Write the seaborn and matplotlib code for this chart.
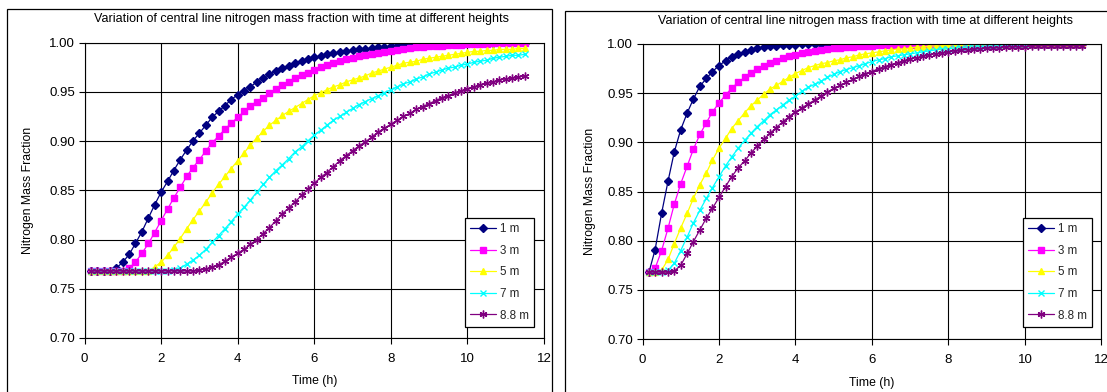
import matplotlib
matplotlib.use("Agg")
import matplotlib.pyplot as plt
from matplotlib.patches import Rectangle
from matplotlib.ticker import FormatStrFormatter
import seaborn as sns

# ---------------- data ----------------
TIME = [0.17, 0.33, 0.50, 0.67, 0.83, 1.00, 1.17, 1.33, 1.50, 1.67,
        1.83, 2.00, 2.17, 2.33, 2.50, 2.67, 2.83, 3.00, 3.17, 3.33,
        3.50, 3.67, 3.83, 4.00, 4.17, 4.33, 4.50, 4.67, 4.83, 5.00,
        5.17, 5.33, 5.50, 5.67, 5.83, 6.00, 6.17, 6.33, 6.50, 6.67,
        6.83, 7.00, 7.17, 7.33, 7.50, 7.67, 7.83, 8.00, 8.17, 8.33,
        8.50, 8.67, 8.83, 9.00, 9.17, 9.33, 9.50, 9.67, 9.83, 10.00,
        10.17, 10.33, 10.50, 10.67, 10.83, 11.00, 11.17, 11.33, 11.50]

LEFT_1M = [0.768, 0.768, 0.768, 0.768, 0.771, 0.777, 0.785, 0.796, 0.808, 0.822,
           0.835, 0.848, 0.859, 0.870, 0.881, 0.891, 0.900, 0.908, 0.916, 0.924,
           0.930, 0.936, 0.942, 0.947, 0.951, 0.955, 0.960, 0.964, 0.968, 0.971,
           0.974, 0.976, 0.979, 0.981, 0.983, 0.985, 0.986, 0.988, 0.989, 0.990,
           0.991, 0.992, 0.993, 0.993, 0.994, 0.995, 0.995, 0.996, 0.996, 0.997,
           0.997, 0.997, 0.998, 0.998, 0.998, 0.998, 0.999, 0.999, 0.999, 0.999,
           0.999, 0.999, 0.999, 0.999, 1.000, 1.000, 1.000, 1.000, 1.000]
LEFT_3M = [0.768, 0.768, 0.768, 0.768, 0.768, 0.768, 0.771, 0.777, 0.786, 0.796,
           0.807, 0.819, 0.831, 0.842, 0.853, 0.864, 0.873, 0.881, 0.890, 0.898,
           0.905, 0.912, 0.918, 0.924, 0.930, 0.936, 0.940, 0.944, 0.949, 0.953,
           0.957, 0.960, 0.964, 0.967, 0.969, 0.972, 0.975, 0.977, 0.979, 0.981,
           0.983, 0.984, 0.986, 0.987, 0.988, 0.989, 0.990, 0.991, 0.992, 0.993,
           0.994, 0.995, 0.995, 0.996, 0.996, 0.996, 0.997, 0.997, 0.997, 0.998,
           0.998, 0.998, 0.998, 0.999, 0.999, 0.999, 0.999, 0.999, 0.999]
LEFT_5M = [0.768, 0.768, 0.768, 0.768, 0.768, 0.768, 0.768, 0.768, 0.768, 0.768,
           0.772, 0.777, 0.784, 0.792, 0.801, 0.811, 0.820, 0.829, 0.838, 0.847,
           0.856, 0.864, 0.872, 0.880, 0.888, 0.896, 0.903, 0.910, 0.916, 0.921,
           0.926, 0.930, 0.934, 0.938, 0.942, 0.946, 0.949, 0.952, 0.955, 0.957,
           0.960, 0.962, 0.964, 0.966, 0.969, 0.971, 0.973, 0.975, 0.977, 0.979,
           0.980, 0.981, 0.983, 0.984, 0.985, 0.986, 0.987, 0.988, 0.989, 0.990,
           0.991, 0.991, 0.992, 0.992, 0.993, 0.993, 0.993, 0.994, 0.994]
LEFT_7M = [0.768, 0.768, 0.768, 0.768, 0.768, 0.768, 0.768, 0.768, 0.768, 0.768,
           0.768, 0.768, 0.768, 0.769, 0.771, 0.775, 0.779, 0.784, 0.790, 0.797,
           0.804, 0.811, 0.818, 0.826, 0.833, 0.840, 0.848, 0.856, 0.863, 0.870,
           0.876, 0.882, 0.889, 0.894, 0.900, 0.906, 0.911, 0.916, 0.921, 0.925,
           0.929, 0.933, 0.937, 0.940, 0.943, 0.946, 0.949, 0.952, 0.955, 0.958,
           0.960, 0.963, 0.965, 0.968, 0.970, 0.972, 0.974, 0.975, 0.977, 0.978,
           0.980, 0.981, 0.982, 0.984, 0.985, 0.986, 0.987, 0.987, 0.988]
LEFT_88M = [0.768, 0.768, 0.768, 0.768, 0.768, 0.768, 0.768, 0.768, 0.768, 0.768,
            0.768, 0.768, 0.768, 0.768, 0.768, 0.768, 0.768, 0.769, 0.770, 0.772,
            0.774, 0.778, 0.782, 0.786, 0.790, 0.795, 0.800, 0.806, 0.812, 0.819,
            0.826, 0.832, 0.838, 0.845, 0.851, 0.857, 0.863, 0.868, 0.874, 0.880,
            0.885, 0.890, 0.895, 0.899, 0.904, 0.909, 0.913, 0.917, 0.921, 0.925,
            0.928, 0.932, 0.935, 0.938, 0.941, 0.944, 0.946, 0.949, 0.951, 0.953,
            0.955, 0.957, 0.959, 0.960, 0.962, 0.963, 0.964, 0.965, 0.966]

RIGHT_1M = [0.768, 0.791, 0.828, 0.861, 0.890, 0.913, 0.930, 0.944, 0.957, 0.965,
            0.972, 0.978, 0.983, 0.987, 0.990, 0.992, 0.994, 0.996, 0.997, 0.998,
            0.998, 0.999, 0.999, 0.999, 1.000, 1.000, 1.000, 1.000, 1.000, 1.000,
            1.000, 1.000, 1.000, 1.000, 1.000, 1.000, 1.000, 1.000, 1.000, 1.000,
            1.000, 1.000, 1.000, 1.000, 1.000, 1.000, 1.000, 1.000, 1.000, 1.000,
            1.000, 1.000, 1.000, 1.000, 1.000, 1.000, 1.000, 1.000, 1.000, 1.000,
            1.000, 1.000, 1.000, 1.000, 1.000, 1.000, 1.000, 1.000, 1.000]
RIGHT_3M = [0.768, 0.772, 0.790, 0.813, 0.837, 0.858, 0.876, 0.893, 0.908, 0.920,
            0.931, 0.940, 0.948, 0.955, 0.961, 0.966, 0.971, 0.975, 0.978, 0.981,
            0.983, 0.986, 0.988, 0.989, 0.991, 0.992, 0.993, 0.994, 0.995, 0.996,
            0.996, 0.997, 0.997, 0.998, 0.998, 0.998, 0.999, 0.999, 0.999, 0.999,
            0.999, 0.999, 0.999, 0.999, 0.999, 0.999, 0.999, 0.999, 1.000, 1.000,
            1.000, 1.000, 1.000, 1.000, 1.000, 1.000, 1.000, 1.000, 1.000, 1.000,
            1.000, 1.000, 1.000, 1.000, 1.000, 1.000, 1.000, 1.000, 1.000]
RIGHT_5M = [0.768, 0.768, 0.770, 0.781, 0.797, 0.813, 0.828, 0.843, 0.857, 0.869,
            0.882, 0.894, 0.904, 0.914, 0.922, 0.930, 0.937, 0.943, 0.949, 0.954,
            0.958, 0.962, 0.966, 0.970, 0.973, 0.976, 0.978, 0.980, 0.981, 0.983,
            0.984, 0.986, 0.987, 0.989, 0.990, 0.991, 0.992, 0.993, 0.994, 0.995,
            0.995, 0.996, 0.997, 0.997, 0.998, 0.998, 0.998, 0.999, 0.999, 0.999,
            0.999, 0.999, 0.999, 0.999, 0.999, 0.999, 0.999, 0.999, 0.999, 0.999,
            1.000, 1.000, 1.000, 1.000, 1.000, 1.000, 1.000, 1.000, 1.000]
RIGHT_7M = [0.768, 0.768, 0.768, 0.770, 0.777, 0.790, 0.804, 0.818, 0.831, 0.843,
            0.854, 0.865, 0.876, 0.885, 0.894, 0.902, 0.909, 0.916, 0.922, 0.928,
            0.933, 0.938, 0.943, 0.947, 0.952, 0.956, 0.959, 0.962, 0.966, 0.969,
            0.972, 0.974, 0.976, 0.978, 0.980, 0.982, 0.984, 0.985, 0.987, 0.988,
            0.989, 0.990, 0.991, 0.992, 0.993, 0.994, 0.995, 0.995, 0.996, 0.996,
            0.997, 0.997, 0.997, 0.998, 0.998, 0.998, 0.998, 0.999, 0.999, 0.999,
            0.999, 0.999, 0.999, 0.999, 0.999, 0.999, 0.999, 0.999, 0.999]
RIGHT_88M = [0.768, 0.768, 0.768, 0.768, 0.769, 0.775, 0.787, 0.799, 0.811, 0.823,
             0.833, 0.844, 0.855, 0.865, 0.874, 0.881, 0.889, 0.896, 0.903, 0.909,
             0.915, 0.921, 0.926, 0.931, 0.935, 0.939, 0.943, 0.947, 0.951, 0.955,
             0.958, 0.961, 0.964, 0.967, 0.970, 0.972, 0.975, 0.977, 0.979, 0.981,
             0.983, 0.985, 0.986, 0.988, 0.989, 0.990, 0.991, 0.992, 0.993, 0.994,
             0.994, 0.995, 0.995, 0.996, 0.996, 0.996, 0.997, 0.997, 0.997, 0.997,
             0.998, 0.998, 0.998, 0.998, 0.998, 0.998, 0.998, 0.998, 0.998]

HEIGHTS = ["1 m", "3 m", "5 m", "7 m", "8.8 m"]
LEFT_SERIES = [LEFT_1M, LEFT_3M, LEFT_5M, LEFT_7M, LEFT_88M]
RIGHT_SERIES = [RIGHT_1M, RIGHT_3M, RIGHT_5M, RIGHT_7M, RIGHT_88M]
X_TICKS = [0, 2, 4, 6, 8, 10, 12]
Y_TICKS = [0.70, 0.75, 0.80, 0.85, 0.90, 0.95, 1.00]
TITLE = "Variation of central line nitrogen mass fraction with time at different heights"
X_LABEL = "Time (h)"
Y_LABEL = "Nitrogen Mass Fraction"

# ---------------- styling ----------------
COLORS = ["#000080", "#FF00FF", "#FFFF00", "#00FFFF", "#800080"]
MARKERS = ["D", "s", "^", "x", (6, 2, 0)]
MSIZES = [3.9, 4.0, 4.9, 4.9, 5.6]

sns.set_theme(style="white")
plt.rcParams['font.family'] = ['Liberation Sans', 'DejaVu Sans']

W, H = 1107, 392
fig = plt.figure(figsize=(W / 100, H / 100), dpi=100)
fig.patch.set_facecolor("white")


def fx(px):
    return px / W


def fy(py):
    return 1 - py / H


# outer chart-area borders (Excel style)
for x0, x1, y0 in [(7, 552, 9), (565, 1112, 11)]:
    fig.patches.append(Rectangle((fx(x0), -0.05), fx(x1) - fx(x0), fy(y0) + 0.05,
                                 transform=fig.transFigure, figure=fig,
                                 fill=False, ec="black", lw=0.9))

panels = [
    dict(box=(84.5, 544.0, 42.5, 338.0), series=LEFT_SERIES, title_x=302, title_y=19,
         ylab_x=28, xlab_y=381, leg=(465, 218)),
    dict(box=(642.5, 1101.5, 44.0, 339.0), series=RIGHT_SERIES, title_x=866, title_y=21,
         ylab_x=590, xlab_y=383, leg=(1023, 218)),
]

for p in panels:
    x0, x1, ytop, ybot = p["box"]
    ax = fig.add_axes([fx(x0), fy(ybot), (x1 - x0) / W, (ybot - ytop) / H])
    ax.set_facecolor("white")
    for vals, lab, col, mk, ms in zip(p["series"], HEIGHTS, COLORS, MARKERS, MSIZES):
        sns.lineplot(x=TIME, y=vals, ax=ax, color=col, marker=mk, markersize=ms,
                     markeredgecolor=col, markerfacecolor=col, markeredgewidth=1.0,
                     linewidth=0.9, label=lab, errorbar=None, sort=False)
    ax.set_xlim(0, 12)
    ax.set_ylim(0.70, 1.00)
    ax.set_xticks(X_TICKS)
    ax.set_yticks(Y_TICKS)
    ax.yaxis.set_major_formatter(FormatStrFormatter("%.2f"))
    ax.grid(True, color="black", linewidth=0.8)
    ax.set_axisbelow(True)
    for s in ax.spines.values():
        s.set_color("black")
        s.set_linewidth(0.8)
    ax.tick_params(axis="both", which="major", direction="out", length=4, width=0.8,
                   colors="black", labelsize=9.5, bottom=True, left=True, pad=3)
    ax.tick_params(axis="x", pad=7)

    ax.set_title(TITLE, fontsize=9, color="black", x=(p["title_x"] - x0) / (x1 - x0),
                 y=1 + (ytop - p["title_y"]) / (ybot - ytop), va="center", pad=0)
    ax.set_xlabel(X_LABEL, fontsize=8.8, color="black")
    ax.set_ylabel(Y_LABEL, fontsize=8.8, color="black")
    ax.xaxis.set_label_coords(0.5, -(p["xlab_y"] - ybot) / (ybot - ytop))
    ax.xaxis.label.set_va("center")
    ax.yaxis.set_label_coords((p["ylab_x"] - x0) / (x1 - x0), 0.5)
    ax.yaxis.label.set_va("center")

    lx, ly = p["leg"]
    leg = ax.legend(loc="upper left",
                    bbox_to_anchor=((lx - x0) / (x1 - x0), (ybot - ly) / (ybot - ytop)),
                    fontsize=8.4, frameon=True, fancybox=False, framealpha=1,
                    edgecolor="black", handlelength=2.2, handletextpad=0.35,
                    labelspacing=0.82, borderpad=0.45, borderaxespad=0)
    leg.get_frame().set_linewidth(0.9)

fig.savefig("out.png", dpi=100, facecolor="white")
